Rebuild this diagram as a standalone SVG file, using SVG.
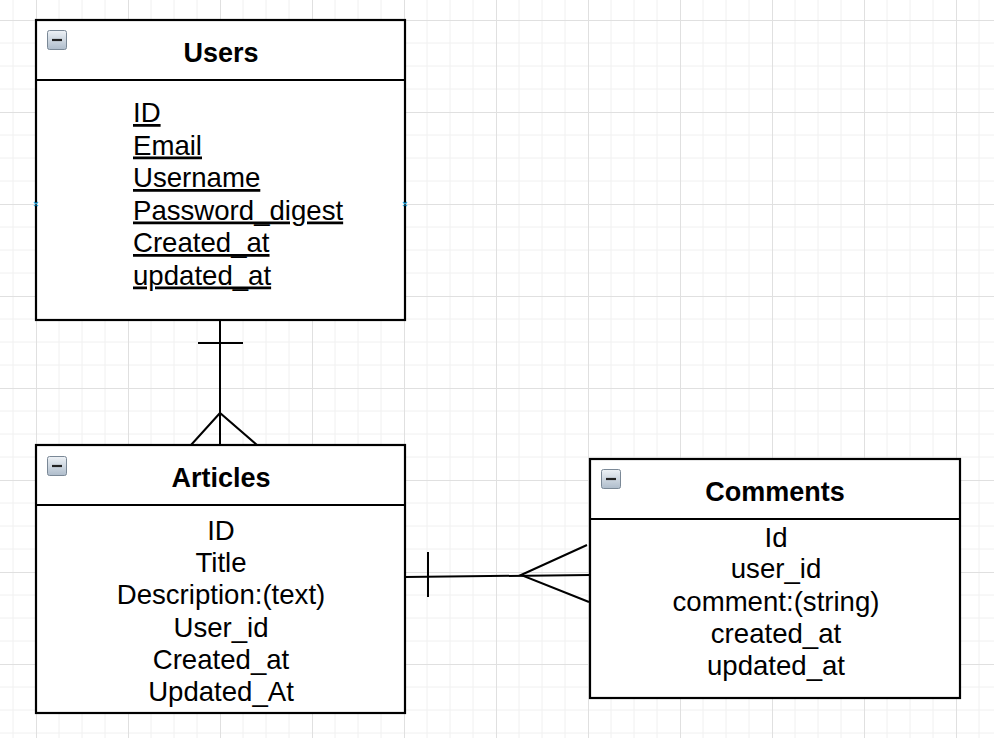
<svg xmlns="http://www.w3.org/2000/svg" width="994" height="738" viewBox="0 0 994 738">
<style>
.box{fill:#ffffff;stroke:#000000;stroke-width:2.2}
.sep{stroke:#000000;stroke-width:2.2}
.title{font-family:"Liberation Sans",Arial,Helvetica,sans-serif;font-size:27px;font-weight:bold;fill:#000000;text-anchor:middle}
.attr{font-family:"Liberation Sans",Arial,Helvetica,sans-serif;font-size:27.6px;fill:#000000}
.mid{text-anchor:middle}
.ul{text-decoration:underline}
.conn{stroke:#000000;stroke-width:2;fill:none}
.pt{stroke:#29a8e0;stroke-width:1.2}
</style>
<defs>
<pattern id="grid" x="36" y="20" width="92" height="92" patternUnits="userSpaceOnUse">
<path d="M23 0V92M46 0V92M69 0V92M0 23H92M0 46H92M0 69H92" stroke="#f0f0f0" stroke-width="1" fill="none"/>
<path d="M0.5 0V92M0 0.5H92" stroke="#e0e0e0" stroke-width="1" fill="none"/>
</pattern>
<linearGradient id="icg" x1="0" y1="0" x2="0" y2="1">
<stop offset="0" stop-color="#eef2f6"/>
<stop offset="1" stop-color="#aebccb"/>
</linearGradient>
<g id="icon">
<rect x="0.5" y="0.5" width="19" height="19" rx="2" fill="url(#icg)" stroke="#7a8896" stroke-width="1"/>
<line x1="5" y1="10" x2="15" y2="10" stroke="#222" stroke-width="2.2"/>
</g>
</defs>
<rect width="994" height="738" fill="#ffffff"/>
<rect width="994" height="738" fill="url(#grid)"/>

<g id="connectors">
<line class="conn" x1="220" y1="320" x2="220" y2="445"/>
<line class="conn" x1="198" y1="343" x2="243" y2="343"/>
<polyline class="conn" points="191,445 220,413 257,445"/>
<line class="conn" x1="405" y1="577" x2="590" y2="575"/>
<line class="conn" x1="428" y1="552" x2="428" y2="597"/>
<polyline class="conn" points="587,545 521,575 589,602"/>
</g>

<g id="users">
<rect class="box" x="36" y="20" width="369" height="300"/>
<line class="sep" x1="36" y1="80" x2="405" y2="80"/>
<use href="#icon" x="47" y="30"/>
<text class="title" x="221" y="62">Users</text>
<text class="attr ul" x="133" y="122">ID</text>
<text class="attr ul" x="133" y="154.5">Email</text>
<text class="attr ul" x="133" y="187">Username</text>
<text class="attr ul" x="133" y="219.5">Password_digest</text>
<text class="attr ul" x="133" y="252">Created_at</text>
<text class="attr ul" x="133" y="284.5">updated_at</text>
<path class="pt" d="M34 202L38 206M38 202L34 206M403 202L407 206M407 202L403 206"/>
</g>

<g id="articles">
<rect class="box" x="36" y="445" width="369" height="268"/>
<line class="sep" x1="36" y1="505" x2="405" y2="505"/>
<use href="#icon" x="47" y="456"/>
<text class="title" x="221" y="487">Articles</text>
<text class="attr mid" x="221" y="539.5">ID</text>
<text class="attr mid" x="221" y="572">Title</text>
<text class="attr mid" x="221" y="604">Description:(text)</text>
<text class="attr mid" x="221" y="636.5">User_id</text>
<text class="attr mid" x="221" y="669">Created_at</text>
<text class="attr mid" x="221" y="701">Updated_At</text>
</g>

<g id="comments">
<rect class="box" x="590" y="459" width="370" height="239"/>
<line class="sep" x1="590" y1="519" x2="960" y2="519"/>
<use href="#icon" x="601" y="469"/>
<text class="title" x="775" y="501">Comments</text>
<text class="attr mid" x="776" y="546.5">Id</text>
<text class="attr mid" x="776" y="578">user_id</text>
<text class="attr mid" x="776" y="610.5">comment:(string)</text>
<text class="attr mid" x="776" y="643">created_at</text>
<text class="attr mid" x="776" y="675">updated_at</text>
</g>
</svg>
